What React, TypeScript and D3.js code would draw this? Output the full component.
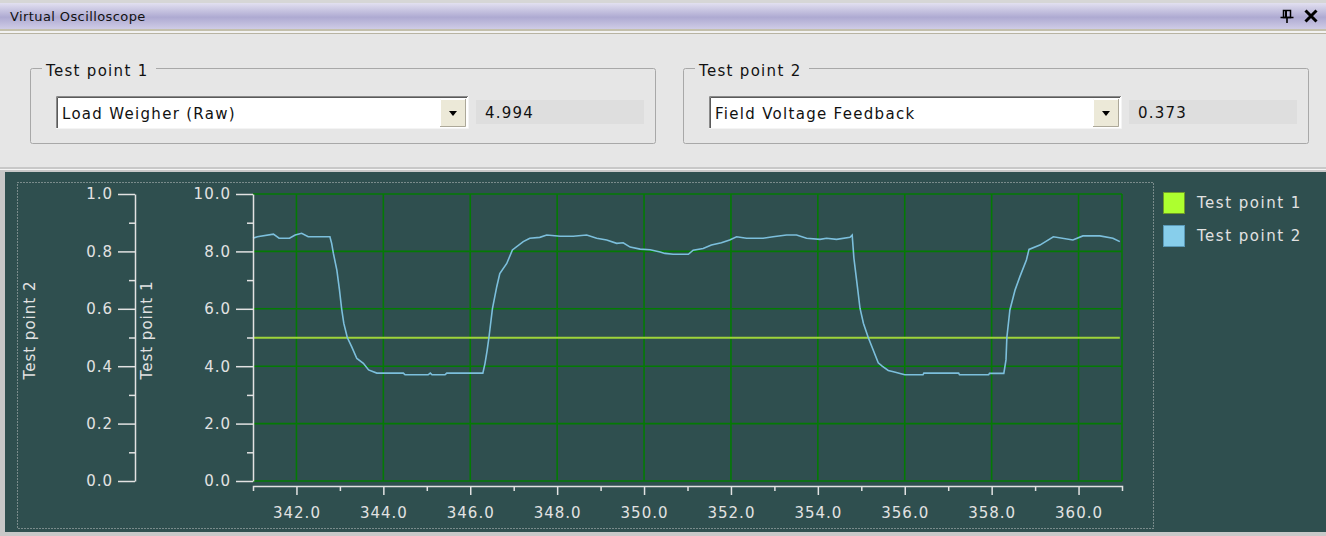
import React, { useEffect, useRef } from "react";
import * as d3 from "d3";

// Test point 2 trace (time in s, value on the 0..1 scale)
const tp2Time = [
  341.0, 341.1, 341.47, 341.6, 341.84, 341.97, 342.12, 342.27, 342.77, 342.81,
  342.85, 342.93, 342.99, 343.04, 343.09, 343.17, 343.27, 343.39, 343.54, 343.66,
  343.85, 344.46, 344.5, 345.03, 345.08, 345.12, 345.42, 345.46, 346.29, 346.34,
  346.39, 346.43, 346.51, 346.61, 346.68, 346.84, 346.97, 347.22, 347.37, 347.6,
  347.76, 348.07, 348.37, 348.68, 348.91, 349.14, 349.37, 349.52, 349.68, 349.91,
  350.14, 350.37, 350.48, 350.67, 351.02, 351.13, 351.36, 351.55, 351.78, 351.97,
  352.13, 352.36, 352.74, 352.97, 353.28, 353.51, 353.74, 354.05, 354.2, 354.43,
  354.74, 354.79, 354.83, 354.91, 354.97, 355.05, 355.16, 355.39, 355.48, 355.62,
  355.74, 356.0, 356.42, 356.44, 357.24, 357.26, 357.93, 357.95, 358.28, 358.33,
  358.35, 358.42, 358.54, 358.65, 358.8, 358.86, 359.11, 359.42, 359.87, 360.1,
  360.49, 360.79, 360.95,
];
const tp2Value = [
  0.846, 0.851, 0.86, 0.846, 0.846, 0.857, 0.863, 0.851, 0.851, 0.828,
  0.793, 0.735, 0.666, 0.6, 0.549, 0.5, 0.468, 0.427, 0.41, 0.387,
  0.376, 0.376, 0.37, 0.37, 0.376, 0.37, 0.37, 0.376, 0.376, 0.41,
  0.456, 0.5, 0.6, 0.677, 0.723, 0.758, 0.805, 0.834, 0.846, 0.849,
  0.857, 0.853, 0.853, 0.857, 0.846, 0.84, 0.828, 0.83, 0.815, 0.808,
  0.806, 0.798, 0.793, 0.79, 0.79, 0.804, 0.81, 0.822, 0.83, 0.84,
  0.851, 0.846, 0.846, 0.851, 0.857, 0.857, 0.846, 0.842, 0.846, 0.842,
  0.849, 0.857, 0.776, 0.677, 0.602, 0.549, 0.5, 0.412, 0.4, 0.385,
  0.381, 0.37, 0.37, 0.376, 0.376, 0.37, 0.37, 0.375, 0.375, 0.422,
  0.5, 0.596, 0.666, 0.712, 0.77, 0.807, 0.822, 0.851, 0.84, 0.854,
  0.854, 0.846, 0.834,
];

// Test point 1 trace (time in s, value on the 0..10 scale)
const tp1Time = [341.0, 360.95];
const tp1Value = [4.994, 4.994];

const xTicks = [342, 344, 346, 348, 350, 352, 354, 356, 358, 360];
const xMinor = [343, 345, 347, 349, 351, 353, 355, 357, 359];
const tp1Ticks = [0, 2, 4, 6, 8, 10];
const tp1Minor = [1, 3, 5, 7, 9];
const tp2Ticks = [0, 0.2, 0.4, 0.6, 0.8, 1.0];
const tp2Minor = [0.1, 0.3, 0.5, 0.7, 0.9];

const seriesNames = ["Test point 1", "Test point 2"];
const seriesColors = ["#adff2f", "#87ceeb"];
const seriesStroke = ["#6f9a2a", "#5a9ab8"];
const channels = ["Load Weigher (Raw)", "Field Voltage Feedback"];
const readouts = ["4.994", "0.373"];

const W = 1326;
const H = 536;
const plot = { left: 253, right: 1122, top: 194, bottom: 481 };
const font = "'DejaVu Sans', Verdana, sans-serif";
const ink = "#e2e2e2";

const TestPointBox = ({ x, i }) => (
  <g transform={`translate(${x},0)`}>
    <rect x={0.5} y={68.5} width={625} height={75} rx={2} fill="none" stroke="#a8a8a8" />
    <rect x={12} y={60} width={114} height={18} fill="#e6e6e6" />
    <text x={16} y={76} fontSize={15} letterSpacing={1.3} fill="#111">
      {seriesNames[i]}
    </text>
    {/* combo box */}
    <rect x={26} y={96} width={412} height={33} fill="#fff" />
    <path d="M26.5,129V96.5H438" fill="none" stroke="#8a8a8a" strokeWidth={1} />
    <path d="M27.5,128V97.5H437" fill="none" stroke="#5a5a5a" strokeWidth={1} />
    <path d="M26,128.5H438.5V96" fill="none" stroke="#f4f4f4" strokeWidth={1} />
    <text x={32} y={119} fontSize={15} letterSpacing={1.3} fill="#111">
      {channels[i]}
    </text>
    <rect x={410} y={99} width={26} height={28} fill="#ece9d8" />
    <path d="M410.5,127V99.5H436" fill="none" stroke="#fff" />
    <path d="M410,126.5H435.5V99" fill="none" stroke="#aca899" />
    <path d="M419,111H427L423,116Z" fill="#000" />
    {/* readout */}
    <rect x={446} y={100} width={168} height={24} fill="#dedede" />
    <text x={455} y={118} fontSize={15} letterSpacing={1.2} fill="#111">
      {readouts[i]}
    </text>
  </g>
);

const App = () => {
  const chartRef = useRef(null);

  useEffect(() => {
    const g = d3.select(chartRef.current);
    g.selectAll("*").remove();

    const x = d3.scaleLinear().domain([341, 361]).range([plot.left, plot.right]);
    const y1 = d3.scaleLinear().domain([0, 10]).range([plot.bottom, plot.top]);
    const y2 = d3.scaleLinear().domain([0, 1]).range([plot.bottom, plot.top]);

    // grid
    const grid = g.append("g").attr("stroke", "#047a04").attr("stroke-width", 1.6);
    grid
      .selectAll("line.v")
      .data(xTicks.concat([361]))
      .enter()
      .append("line")
      .attr("x1", (d) => x(d))
      .attr("x2", (d) => x(d))
      .attr("y1", plot.top)
      .attr("y2", plot.bottom);
    grid
      .selectAll("line.h")
      .data(tp1Ticks)
      .enter()
      .append("line")
      .attr("x1", plot.left)
      .attr("x2", plot.right)
      .attr("y1", (d) => y1(d))
      .attr("y2", (d) => y1(d));

    // traces
    const line1 = d3
      .line()
      .x((d, i) => x(tp1Time[i]))
      .y((d) => y1(d));
    g.append("path")
      .datum(tp1Value)
      .attr("d", line1)
      .attr("fill", "none")
      .attr("stroke", "#9fd43a")
      .attr("stroke-width", 2);

    const line2 = d3
      .line()
      .x((d, i) => x(tp2Time[i]))
      .y((d) => y2(d));
    g.append("path")
      .datum(tp2Value)
      .attr("d", line2)
      .attr("fill", "none")
      .attr("stroke", "#7cbfdc")
      .attr("stroke-width", 1.6);

    const styleAxis = (sel) => {
      sel.selectAll("path, line").attr("stroke", ink).attr("stroke-width", 1.5);
      sel
        .selectAll("text")
        .attr("fill", ink)
        .attr("font-size", 15)
        .attr("font-family", font)
        .attr("letter-spacing", 1);
    };

    // Test point 1 axis
    g.append("g")
      .attr("transform", `translate(${plot.left},0)`)
      .call(d3.axisLeft(y1).tickValues(tp1Ticks).tickSize(17).tickSizeOuter(0).tickPadding(5).tickFormat(d3.format(".1f")))
      .call(styleAxis);
    g.append("g")
      .attr("transform", `translate(${plot.left},0)`)
      .call(d3.axisLeft(y1).tickValues(tp1Minor).tickSize(6).tickFormat(() => ""))
      .call((s) => s.select(".domain").remove())
      .call(styleAxis);

    // Test point 2 axis
    g.append("g")
      .attr("transform", `translate(135,0)`)
      .call(d3.axisLeft(y2).tickValues(tp2Ticks).tickSize(17).tickSizeOuter(0).tickPadding(5).tickFormat(d3.format(".1f")))
      .call(styleAxis);
    g.append("g")
      .attr("transform", `translate(135,0)`)
      .call(d3.axisLeft(y2).tickValues(tp2Minor).tickSize(6).tickFormat(() => ""))
      .call((s) => s.select(".domain").remove())
      .call(styleAxis);

    // time axis
    g.append("g")
      .attr("transform", `translate(0,486)`)
      .call(d3.axisBottom(x).tickValues(xTicks).tickSize(9).tickSizeOuter(5).tickPadding(12).tickFormat(d3.format(".1f")))
      .call(styleAxis);
    g.append("g")
      .attr("transform", `translate(0,486)`)
      .call(d3.axisBottom(x).tickValues(xMinor).tickSize(5).tickFormat(() => ""))
      .call((s) => s.select(".domain").remove())
      .call(styleAxis);

    // axis titles
    [
      [30, seriesNames[1]],
      [147, seriesNames[0]],
    ].forEach(([cx, label]) => {
      g.append("text")
        .attr("transform", `translate(${cx},330) rotate(-90)`)
        .attr("text-anchor", "middle")
        .attr("dominant-baseline", "middle")
        .attr("fill", ink)
        .attr("font-size", 15)
        .attr("font-family", font)
        .attr("letter-spacing", 1)
        .text(label);
    });

    // legend
    const legend = g
      .selectAll("g.legend")
      .data(seriesNames)
      .enter()
      .append("g")
      .attr("transform", (d, i) => `translate(1163,${192 + i * 33})`);
    legend
      .append("rect")
      .attr("x", 0.5)
      .attr("y", 0.5)
      .attr("width", 21)
      .attr("height", 21)
      .attr("fill", (d, i) => seriesColors[i])
      .attr("stroke", (d, i) => seriesStroke[i]);
    legend
      .append("text")
      .attr("x", 34)
      .attr("y", 11)
      .attr("dy", "0.35em")
      .attr("fill", ink)
      .attr("font-size", 15)
      .attr("font-family", font)
      .attr("letter-spacing", 1.5)
      .text((d) => d);
  }, []);

  return (
    <div style={{ position: "absolute", left: 0, top: 0 }}>
      <svg width={W} height={H} style={{ display: "block" }} fontFamily={font}>
        <defs>
          <linearGradient id="titleGrad" x1="0" y1="0" x2="0" y2="1">
            <stop offset="0%" stopColor="#e2e0f0" />
            <stop offset="55%" stopColor="#aeaad2" />
            <stop offset="100%" stopColor="#cfcce6" />
          </linearGradient>
        </defs>
        <rect width={W} height={H} fill="#e6e6e6" />

        {/* title bar */}
        <rect x={0} y={0} width={W} height={3} fill="#d6d6d6" />
        <rect x={0} y={3} width={W} height={26} fill="url(#titleGrad)" />
        <rect x={0} y={29} width={W} height={2} fill="#c4c0ac" />
        <rect x={0} y={31} width={W} height={2} fill="#f2f2f2" />
        <rect x={0} y={33} width={W} height={1} fill="#b8b4a2" />
        <text x={10} y={21} fontSize={13} letterSpacing={0.4} fill="#111">
          Virtual Oscilloscope
        </text>
        {/* pin */}
        <path d="M1283.5,10.5H1290.5V17.5H1283.5Z" fill="none" stroke="#000" strokeWidth={1.5} />
        <path d="M1286,10.5V17" stroke="#000" strokeWidth={2} />
        <path d="M1280.5,17.5H1293.5M1287,17.5V23" stroke="#000" strokeWidth={1.6} />
        {/* close */}
        <path d="M1305.5,10.5L1316.5,21.5M1316.5,10.5L1305.5,21.5" stroke="#000" strokeWidth={3} />

        <TestPointBox x={30} i={0} />
        <TestPointBox x={683} i={1} />

        {/* chart frame */}
        <rect x={0} y={167} width={W} height={H - 167} fill="#c8c8c8" />
        <rect x={0} y={169} width={W} height={1} fill="#f4f4f4" />
        <rect x={5} y={172} width={W - 5} height={360} fill="#2f4f4f" />
        <rect
          x={17.5}
          y={182.5}
          width={1136}
          height={346}
          fill="none"
          stroke="#c4c8c8"
          strokeWidth={1}
          strokeDasharray="1,2"
        />
        <g ref={chartRef} />
      </svg>
    </div>
  );
};

export default App;
